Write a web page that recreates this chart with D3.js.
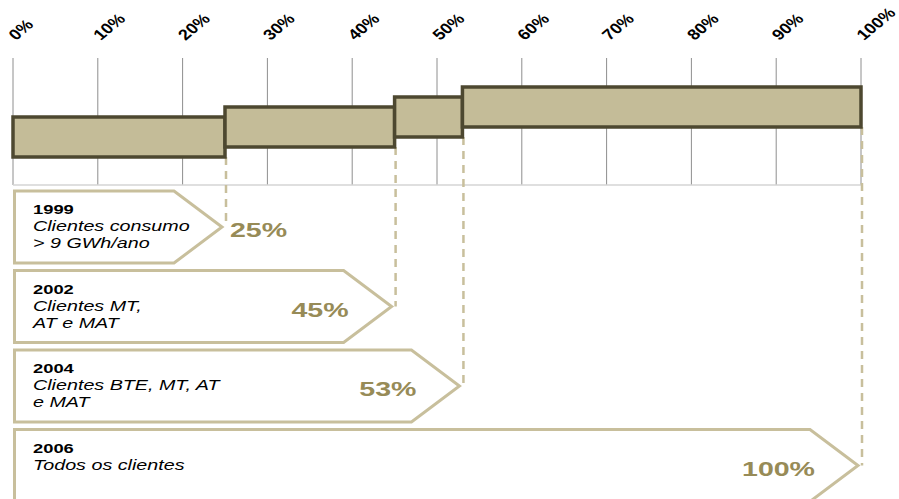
<!DOCTYPE html>
<html>
<head>
<meta charset="utf-8">
<script src="https://cdn.jsdelivr.net/npm/d3@7"></script>
<style>
  html, body { margin: 0; padding: 0; background: #fff; }
  svg { display: block; font-family: Arial, "Liberation Sans", sans-serif; }
</style>
</head>
<body>
<div id="container"></div>
<script>
const w = 899;
const h = 499;

// data
const years = ["1999", "2002", "2004", "2006"];
const descriptions = [
  ["Clientes consumo", "> 9 GWh/ano"],
  ["Clientes MT,", "AT e MAT"],
  ["Clientes BTE, MT, AT", "e MAT"],
  ["Todos os clientes"]
];
const shares = [25, 45, 53, 100];
const tickValues = [0, 10, 20, 30, 40, 50, 60, 70, 80, 90, 100];
const tickLabels = ["0%", "10%", "20%", "30%", "40%", "50%", "60%", "70%", "80%", "90%", "100%"];

const barFill = "#c4bc98";
const barStroke = "#4d4830";
const arrowStroke = "#c8bf9c";
const pctColor = "#978b57";
const stretch = 1.36;

const svg = d3.select("#container")
              .append("svg")
              .attr("width", w)
              .attr("height", h);

const x = d3.scaleLinear().domain([0, 100]).range([13, 861]);

const gridTop = 58;
const gridBottom = 185;

// grid lines
svg.append("g")
   .selectAll("line")
   .data(tickValues)
   .enter()
   .append("line")
   .attr("x1", d => x(d))
   .attr("x2", d => x(d))
   .attr("y1", gridTop)
   .attr("y2", gridBottom)
   .attr("stroke", "#8e8e8e")
   .attr("stroke-width", 1);

svg.append("line")
   .attr("x1", x(0))
   .attr("x2", x(100))
   .attr("y1", gridBottom)
   .attr("y2", gridBottom)
   .attr("stroke", "#d4d4d4")
   .attr("stroke-width", 1.5);

// rotated tick labels
svg.append("g")
   .selectAll("text")
   .data(tickValues)
   .enter()
   .append("text")
   .attr("transform", d => `translate(${x(d) + 3},41) scale(1.2,1) rotate(-45)`)
   .style("font-size", "15px")
   .style("font-weight", "bold")
   .attr("fill", "#000")
   .text((d, i) => tickLabels[i]);

const starts = [0].concat(shares.slice(0, -1));
const barTop = i => 117 - i * 10;
const barH = 40;

// arrow geometry
const arrowTop = i => 191 + i * 79.5;
const arrowH = 72;
const arrowTip = d => x(d) - 3;
const arrowNotch = 48;

// dashed connectors
svg.append("g")
   .selectAll("line")
   .data(shares)
   .enter()
   .append("line")
   .attr("x1", d => x(d) + 1)
   .attr("x2", d => x(d) + 1)
   .attr("y1", (d, i) => barTop(i) + barH)
   .attr("y2", (d, i) => arrowTop(i) + arrowH / 2)
   .attr("stroke", arrowStroke)
   .attr("stroke-width", 2.5)
   .attr("stroke-dasharray", "8,6");

// bars
svg.append("g")
   .selectAll("rect")
   .data(shares)
   .enter()
   .append("rect")
   .attr("x", (d, i) => x(starts[i]))
   .attr("y", (d, i) => barTop(i))
   .attr("width", (d, i) => x(d) - x(starts[i]))
   .attr("height", barH)
   .attr("fill", barFill)
   .attr("stroke", barStroke)
   .attr("stroke-width", 3.5);

// arrows
const arrows = svg.append("g")
                  .selectAll("g")
                  .data(shares)
                  .enter()
                  .append("g");

arrows.append("path")
      .attr("d", (d, i) => {
        const t = arrowTop(i), b = t + arrowH, tip = arrowTip(d);
        const l = x(0) + 1.5;
        return `M${l},${t} L${tip - arrowNotch},${t} L${tip},${t + arrowH / 2} L${tip - arrowNotch},${b} L${l},${b} Z`;
      })
      .attr("fill", "#fff")
      .attr("stroke", arrowStroke)
      .attr("stroke-width", 3);

arrows.append("text")
      .attr("transform", (d, i) => `translate(33,${arrowTop(i) + 23}) scale(${stretch},1)`)
      .style("font-size", "13.5px")
      .style("font-weight", "bold")
      .attr("fill", "#000")
      .text((d, i) => years[i]);

arrows.each(function(d, i) {
  d3.select(this).selectAll("text.desc")
    .data(descriptions[i])
    .enter()
    .append("text")
    .attr("class", "desc")
    .attr("transform", (s, j) => `translate(33,${arrowTop(i) + 40 + j * 17}) scale(${stretch},1)`)
    .style("font-size", "14.5px")
    .style("font-style", "italic")
    .attr("fill", "#000")
    .text(s => s);
});

arrows.append("text")
      .attr("transform", (d, i) => {
        const tip = arrowTip(d);
        const px = i === 0 ? tip + 8 : tip - arrowNotch + 5;
        return `translate(${px},${arrowTop(i) + arrowH / 2 + 10}) scale(${stretch},1)`;
      })
      .attr("text-anchor", (d, i) => i === 0 ? "start" : "end")
      .style("font-size", "21px")
      .style("font-weight", "bold")
      .attr("fill", pctColor)
      .text(d => d + "%");
</script>
</body>
</html>
